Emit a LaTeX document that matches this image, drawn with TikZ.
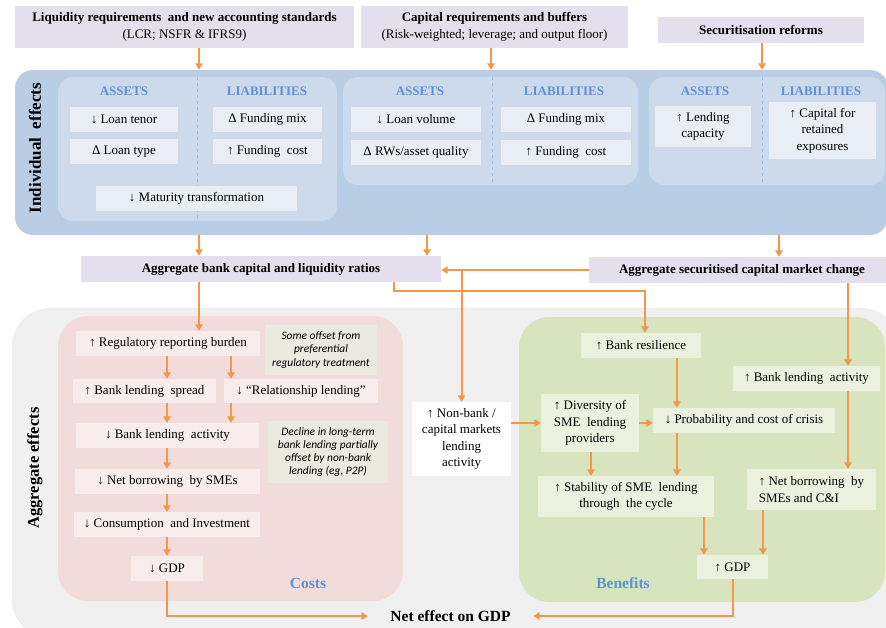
\documentclass[tikz,border=0pt]{standalone}
\usepackage{fontspec}
\setmainfont{Liberation Serif}
\newfontfamily\notefont{Carlito}
\usetikzlibrary{arrows.meta}
\definecolor{lav}{HTML}{E4DFEC}
\definecolor{bluepanel}{HTML}{B9CDE5}
\definecolor{blueinner}{HTML}{CDDAEB}
\definecolor{bluebox}{HTML}{E9EEF6}
\definecolor{bluetext}{HTML}{5B93D8}
\definecolor{greypanel}{HTML}{F0F0F0}
\definecolor{pinkpanel}{HTML}{F2DCDB}
\definecolor{pinkbox}{HTML}{F9ECEC}
\definecolor{notebox}{HTML}{EBEADF}
\definecolor{greenpanel}{HTML}{D8E4BD}
\definecolor{greenbox}{HTML}{EBF1DE}
\definecolor{orng}{HTML}{F5974A}
\begin{document}
\begin{tikzpicture}[x=1pt,y=-1pt,
  box/.style={rectangle, inner sep=0pt, align=center, font=\fontsize{13}{16.5}\selectfont},
  topbox/.style={box, fill=lav},
  bbox/.style={box, fill=bluebox},
  pbox/.style={box, fill=pinkbox},
  gbox/.style={box, fill=greenbox},
  notebx/.style={box, fill=notebox, font=\notefont\itshape\fontsize{11.4}{13.2}\selectfont},
  hdr/.style={inner sep=0pt, font=\bfseries\fontsize{13}{15}\selectfont, text=bluetext},
  sidelbl/.style={inner sep=0pt, rotate=90, font=\bfseries\fontsize{17}{19}\selectfont},
  panel/.style={rectangle, inner sep=0pt, draw=none},
  divider/.style={draw=bluetext!60, dashed, line width=0.6pt},
  arr/.style={draw=orng, line width=2pt, -{Triangle[length=6.5pt,width=7.5pt]}}
]
\useasboundingbox (0,0) rectangle (886,627);
\fill[white] (0,0) rectangle (886,627);

% ---------- top boxes
\node[topbox, minimum width=339, minimum height=42] (t1) at (184.5,27)
  {\textbf{Liquidity requirements\ \ and new accounting standards}\\(LCR; NSFR \& IFRS9)};
\node[topbox, minimum width=267, minimum height=42] (t2) at (494.5,27)
  {\textbf{Capital requirements and buffers}\\(Risk-weighted;\ leverage; and output floor)};
\node[topbox, minimum width=206, minimum height=26] (t3) at (761,30)
  {\textbf{Securitisation reforms}};

% ---------- individual effects panel
\node[panel, fill=bluepanel, rounded corners=18pt, minimum width=873, minimum height=165] (ind) at (451.5,152.5) {};
\node[panel, fill=blueinner, rounded corners=15pt, minimum width=279, minimum height=144] (p1) at (197.5,149) {};
\node[panel, fill=blueinner, rounded corners=15pt, minimum width=295, minimum height=108] (p2) at (490.5,131) {};
\node[panel, fill=blueinner, rounded corners=15pt, minimum width=236, minimum height=108] (p3) at (767,131) {};
\draw[divider] (197,77) -- (197,221);
\draw[divider] (492,77) -- (492,185);
\draw[divider] (762,77) -- (762,185);

\node[sidelbl] (indl) at (35,148) {Individual\ \ effects};

\node[hdr] (h1) at (124,91) {ASSETS};
\node[hdr] (h2) at (267,91) {LIABILITIES};
\node[hdr] (h3) at (420,91) {ASSETS};
\node[hdr] (h4) at (564,91) {LIABILITIES};
\node[hdr] (h5) at (705,91) {ASSETS};
\node[hdr] (h6) at (821,91) {LIABILITIES};

\node[bbox, minimum width=108, minimum height=25] (a1) at (124,119.5) {↓ Loan tenor};
\node[bbox, minimum width=108, minimum height=25] (a2) at (124,151.5) {Δ Loan type};
\node[bbox, minimum width=109, minimum height=25] (l1) at (267.5,119.5) {Δ Funding mix};
\node[bbox, minimum width=109, minimum height=25] (l2) at (267.5,151.5) {↑ Funding\ \ cost};
\node[bbox, minimum width=201, minimum height=25] (mt) at (196.5,198.5) {↓ Maturity transformation};
\node[bbox, minimum width=130, minimum height=25] (a3) at (416,119.5) {↓ Loan volume};
\node[bbox, minimum width=130, minimum height=25] (a4) at (416,152.5) {Δ RWs/asset quality};
\node[bbox, minimum width=130, minimum height=25] (l3) at (566,119.5) {Δ Funding mix};
\node[bbox, minimum width=130, minimum height=25] (l4) at (566,152.5) {↑ Funding\ \ cost};
\node[bbox, minimum width=96, minimum height=41] (a5) at (703,126.5) {↑ Lending\\capacity};
\node[bbox, minimum width=107, minimum height=57] (l5) at (822.5,130.5) {↑ Capital for\\retained\\exposures};

% ---------- aggregate boxes
\node[topbox, minimum width=360, minimum height=26] (ag1) at (261,269)
  {\textbf{Aggregate bank capital and liquidity ratios}};
\node[topbox, minimum width=306, minimum height=26] (ag2) at (742,270)
  {\textbf{Aggregate securitised capital market change}};

% ---------- aggregate effects panel
\node[panel, fill=greypanel, draw=black!10, rounded corners=40pt, minimum width=888, minimum height=330] (agg) at (456,473) {};
\node[panel, fill=pinkpanel, rounded corners=30pt, minimum width=345, minimum height=285] (costp) at (230.5,458.5) {};
\node[panel, fill=greenpanel, rounded corners=30pt, minimum width=366, minimum height=285] (benp) at (702,459.5) {};

\node[sidelbl, font=\bfseries\fontsize{16.5}{19}\selectfont] (aggl) at (35,468) {Aggregate effects};

% costs
\node[pbox, minimum width=184, minimum height=25] (c1) at (168,343.5) {↑ Regulatory reporting burden};
\node[notebx, minimum width=112, minimum height=50] (n1) at (321,350) {Some offset from\\preferential\\regulatory treatment};
\node[pbox, minimum width=143, minimum height=24] (c2) at (144.5,391) {↑ Bank lending\ \ spread};
\node[pbox, minimum width=154, minimum height=24] (c3) at (301,391) {↓ “Relationship lending”};
\node[pbox, minimum width=183, minimum height=25] (c4) at (167.5,435.5) {↓ Bank lending\ \ activity};
\node[notebx, minimum width=120, minimum height=62] (n2) at (328,452) {Decline in long-term\\bank lending partially\\offset by non-bank\\lending (eg, P2P)};
\node[pbox, minimum width=185, minimum height=25] (c5) at (167.5,481.5) {↓ Net borrowing\ \ by SMEs};
\node[pbox, minimum width=186, minimum height=25] (c6) at (167,524.5) {↓ Consumption\ \ and Investment};
\node[pbox, minimum width=72, minimum height=25] (c7) at (167,568.5) {↓ GDP};
\node[hdr, font=\bfseries\fontsize{15.5}{17}\selectfont] (costl) at (308,583) {Costs};

% benefits
\node[box, fill=white, minimum width=99, minimum height=74] (nb) at (461.5,439) {↑ Non-bank /\\capital markets\\lending\\activity};
\node[gbox, minimum width=120, minimum height=25] (b1) at (641,345.5) {↑ Bank resilience};
\node[gbox, minimum width=147, minimum height=25] (b2) at (806.5,378.5) {↑ Bank lending\ \ activity};
\node[gbox, minimum width=98, minimum height=58] (b3) at (590,423) {↑ Diversity of\\SME\ \ lending\\providers};
\node[gbox, minimum width=182, minimum height=25] (b4) at (744,420.5) {↓ Probability and cost of crisis};
\node[gbox, minimum width=176, minimum height=41] (b5) at (626,496.5) {↑ Stability of SME\ \ lending\\through\ \ the cycle};
\node[gbox, minimum width=129, minimum height=41, align=left] (b6) at (811.5,489.5) {↑ Net borrowing\ \ by\\SMEs and C\&I};
\node[gbox, minimum width=71, minimum height=24] (b7) at (732.5,567) {↑ GDP};
\node[hdr, font=\bfseries\fontsize{15.5}{17}\selectfont] (benl) at (623,583) {Benefits};

\node[inner sep=0pt, minimum width=165, font=\bfseries\fontsize{15.5}{17}\selectfont] (net) at (450.5,616) {Net effect on GDP};

% ---------- connectors
\draw[arr] (t1.south -| 199,0) -- (ind.north -| 199,0);
\draw[arr] (t2.south -| 491,0) -- (ind.north -| 491,0);
\draw[arr] (t3.south -| 762,0) -- (ind.north -| 762,0);

\draw[arr] (ind.south -| 199,0) -- (ag1.north -| 199,0);
\draw[arr] (ind.south -| 427,0) -- (ag1.north -| 427,0);
\draw[arr] (ind.south -| 779,0) -- (ag2.north -| 779,0);

\draw[arr] (ag2.west) -- (ag2.west -| ag1.east);
\draw[arr] (ag2.west -| nb.north) -- (nb.north);
\coordinate (k1) at (645,291);
\draw[arr] (ag1.south -| 394,0) |- (k1) -- (k1 |- b1.north);
\draw[arr] (ag2.south -| 848,0) -- (b2.north -| 848,0);

\draw[arr] (ag1.south -| 199,0) -- (c1.north -| 199,0);
\draw[arr] (c1.south -| 167,0) -- (c2.north -| 167,0);
\draw[arr] (c1.south -| 231,0) -- (c3.north -| 231,0);
\draw[arr] (c2.south -| 167,0) -- (c4.north -| 167,0);
\draw[arr] (c3.south -| 231,0) -- (c4.north -| 231,0);
\draw[arr] (c4.south -| 167,0) -- (c5.north -| 167,0);
\draw[arr] (c5.south -| 167,0) -- (c6.north -| 167,0);
\draw[arr] (c6.south -| 167,0) -- (c7.north -| 167,0);
\draw[arr] (c7.south) |- (net.west);

\draw[arr] (b3.west -| nb.east) -- (b3.west);
\draw[arr] (b3.east) -- (b3.east -| b4.west);
\draw[arr] (b1.south -| 677,0) -- (b4.north -| 677,0);
\draw[arr] (b4.south -| 677,0) -- (b5.north -| 677,0);
\draw[arr] (b3.south -| 591,0) -- (b5.north -| 591,0);
\draw[arr] (b2.south -| 848,0) -- (b6.north -| 848,0);
\draw[arr] (b5.south -| 704,0) -- (b7.north -| 704,0);
\draw[arr] (b6.south -| 763,0) -- (b7.north -| 763,0);
\draw[arr] (b7.south) |- (net.east);
\end{tikzpicture}
\end{document}
